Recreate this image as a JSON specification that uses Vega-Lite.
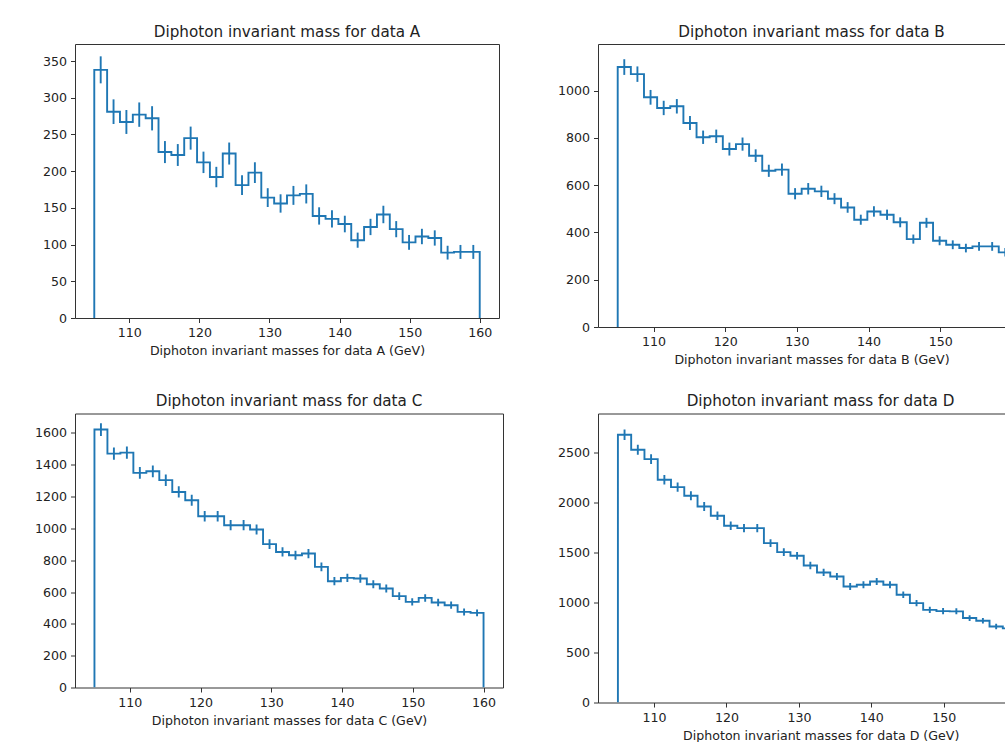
{
  "$schema": "https://vega.github.io/schema/vega-lite/v6.json",
  "background": "white",
  "padding": {"left": 33, "top": 24, "right": 0, "bottom": 0},
  "config": {
    "font": "DejaVu Sans",
    "view": {"stroke": "#333", "strokeWidth": 1},
    "axis": {"grid": false, "domainColor": "#333", "domainWidth": 1, "tickColor": "#333", "tickWidth": 1, "tickSize": 4.5, "labelFont": "DejaVu Sans", "labelFontSize": 12.6, "labelColor": "#222", "labelPadding": 4, "labelFlush": false, "titleFont": "DejaVu Sans", "titleFontSize": 12.6, "titleFontWeight": "normal", "titleColor": "#222", "titlePadding": 5.8, "format": "d"},
    "title": {"font": "DejaVu Sans", "fontSize": 15.2, "fontWeight": "normal", "color": "#222", "offset": 4, "baseline": "alphabetic"}
  },
  "datasets": {
    "A": [
      {"edge": 105, "count": 0},
      {"edge": 105, "center": 105.917, "count": 338, "lo": 319.6, "hi": 356.4},
      {"edge": 106.833, "center": 107.75, "count": 281, "lo": 264.2, "hi": 297.8},
      {"edge": 108.667, "center": 109.583, "count": 267, "lo": 250.7, "hi": 283.3},
      {"edge": 110.5, "center": 111.417, "count": 277, "lo": 260.4, "hi": 293.6},
      {"edge": 112.333, "center": 113.25, "count": 272, "lo": 255.5, "hi": 288.5},
      {"edge": 114.167, "center": 115.083, "count": 226, "lo": 211.0, "hi": 241.0},
      {"edge": 116, "center": 116.917, "count": 222, "lo": 207.1, "hi": 236.9},
      {"edge": 117.833, "center": 118.75, "count": 245, "lo": 229.3, "hi": 260.7},
      {"edge": 119.667, "center": 120.583, "count": 212, "lo": 197.4, "hi": 226.6},
      {"edge": 121.5, "center": 122.417, "count": 192, "lo": 178.1, "hi": 205.9},
      {"edge": 123.333, "center": 124.25, "count": 224, "lo": 209.0, "hi": 239.0},
      {"edge": 125.167, "center": 126.083, "count": 181, "lo": 167.5, "hi": 194.5},
      {"edge": 127, "center": 127.917, "count": 198, "lo": 183.9, "hi": 212.1},
      {"edge": 128.833, "center": 129.75, "count": 164, "lo": 151.2, "hi": 176.8},
      {"edge": 130.667, "center": 131.583, "count": 156, "lo": 143.5, "hi": 168.5},
      {"edge": 132.5, "center": 133.417, "count": 167, "lo": 154.1, "hi": 179.9},
      {"edge": 134.333, "center": 135.25, "count": 169, "lo": 156.0, "hi": 182.0},
      {"edge": 136.167, "center": 137.083, "count": 139, "lo": 127.2, "hi": 150.8},
      {"edge": 138, "center": 138.917, "count": 135, "lo": 123.4, "hi": 146.6},
      {"edge": 139.833, "center": 140.75, "count": 128, "lo": 116.7, "hi": 139.3},
      {"edge": 141.667, "center": 142.583, "count": 106, "lo": 95.7, "hi": 116.3},
      {"edge": 143.5, "center": 144.417, "count": 124, "lo": 112.9, "hi": 135.1},
      {"edge": 145.333, "center": 146.25, "count": 141, "lo": 129.1, "hi": 152.9},
      {"edge": 147.167, "center": 148.083, "count": 121, "lo": 110.0, "hi": 132.0},
      {"edge": 149, "center": 149.917, "count": 103, "lo": 92.9, "hi": 113.1},
      {"edge": 150.833, "center": 151.75, "count": 111, "lo": 100.5, "hi": 121.5},
      {"edge": 152.667, "center": 153.583, "count": 109, "lo": 98.6, "hi": 119.4},
      {"edge": 154.5, "center": 155.417, "count": 89, "lo": 79.6, "hi": 98.4},
      {"edge": 156.333, "center": 157.25, "count": 90, "lo": 80.5, "hi": 99.5},
      {"edge": 158.167, "center": 159.083, "count": 90, "lo": 80.5, "hi": 99.5},
      {"edge": 160, "count": 0}
    ],
    "B": [
      {"edge": 105, "count": 0},
      {"edge": 105, "center": 105.917, "count": 1100, "lo": 1066.8, "hi": 1133.2},
      {"edge": 106.833, "center": 107.75, "count": 1070, "lo": 1037.3, "hi": 1102.7},
      {"edge": 108.667, "center": 109.583, "count": 972, "lo": 940.8, "hi": 1003.2},
      {"edge": 110.5, "center": 111.417, "count": 927, "lo": 896.6, "hi": 957.4},
      {"edge": 112.333, "center": 113.25, "count": 934, "lo": 903.4, "hi": 964.6},
      {"edge": 114.167, "center": 115.083, "count": 863, "lo": 833.6, "hi": 892.4},
      {"edge": 116, "center": 116.917, "count": 803, "lo": 774.7, "hi": 831.3},
      {"edge": 117.833, "center": 118.75, "count": 807, "lo": 778.6, "hi": 835.4},
      {"edge": 119.667, "center": 120.583, "count": 753, "lo": 725.6, "hi": 780.4},
      {"edge": 121.5, "center": 122.417, "count": 774, "lo": 746.2, "hi": 801.8},
      {"edge": 123.333, "center": 124.25, "count": 725, "lo": 698.1, "hi": 751.9},
      {"edge": 125.167, "center": 126.083, "count": 661, "lo": 635.3, "hi": 686.7},
      {"edge": 127, "center": 127.917, "count": 666, "lo": 640.2, "hi": 691.8},
      {"edge": 128.833, "center": 129.75, "count": 564, "lo": 540.3, "hi": 587.7},
      {"edge": 130.667, "center": 131.583, "count": 585, "lo": 560.8, "hi": 609.2},
      {"edge": 132.5, "center": 133.417, "count": 574, "lo": 550.0, "hi": 598.0},
      {"edge": 134.333, "center": 135.25, "count": 543, "lo": 519.7, "hi": 566.3},
      {"edge": 136.167, "center": 137.083, "count": 506, "lo": 483.5, "hi": 528.5},
      {"edge": 138, "center": 138.917, "count": 454, "lo": 432.7, "hi": 475.3},
      {"edge": 139.833, "center": 140.75, "count": 489, "lo": 466.9, "hi": 511.1},
      {"edge": 141.667, "center": 142.583, "count": 475, "lo": 453.2, "hi": 496.8},
      {"edge": 143.5, "center": 144.417, "count": 443, "lo": 422.0, "hi": 464.0},
      {"edge": 145.333, "center": 146.25, "count": 372, "lo": 352.7, "hi": 391.3},
      {"edge": 147.167, "center": 148.083, "count": 441, "lo": 420.0, "hi": 462.0},
      {"edge": 149, "center": 149.917, "count": 365, "lo": 345.9, "hi": 384.1},
      {"edge": 150.833, "center": 151.75, "count": 348, "lo": 329.3, "hi": 366.7},
      {"edge": 152.667, "center": 153.583, "count": 334, "lo": 315.7, "hi": 352.3},
      {"edge": 154.5, "center": 155.417, "count": 341, "lo": 322.5, "hi": 359.5},
      {"edge": 156.333, "center": 157.25, "count": 341, "lo": 322.5, "hi": 359.5},
      {"edge": 158.167, "center": 159.083, "count": 316, "lo": 298.2, "hi": 333.8},
      {"edge": 160, "count": 0}
    ],
    "C": [
      {"edge": 105, "count": 0},
      {"edge": 105, "center": 105.917, "count": 1621, "lo": 1580.7, "hi": 1661.3},
      {"edge": 106.833, "center": 107.75, "count": 1470, "lo": 1431.7, "hi": 1508.3},
      {"edge": 108.667, "center": 109.583, "count": 1476, "lo": 1437.6, "hi": 1514.4},
      {"edge": 110.5, "center": 111.417, "count": 1349, "lo": 1312.3, "hi": 1385.7},
      {"edge": 112.333, "center": 113.25, "count": 1359, "lo": 1322.1, "hi": 1395.9},
      {"edge": 114.167, "center": 115.083, "count": 1303, "lo": 1266.9, "hi": 1339.1},
      {"edge": 116, "center": 116.917, "count": 1229, "lo": 1193.9, "hi": 1264.1},
      {"edge": 117.833, "center": 118.75, "count": 1177, "lo": 1142.7, "hi": 1211.3},
      {"edge": 119.667, "center": 120.583, "count": 1076, "lo": 1043.2, "hi": 1108.8},
      {"edge": 121.5, "center": 122.417, "count": 1076, "lo": 1043.2, "hi": 1108.8},
      {"edge": 123.333, "center": 124.25, "count": 1020, "lo": 988.1, "hi": 1051.9},
      {"edge": 125.167, "center": 126.083, "count": 1020, "lo": 988.1, "hi": 1051.9},
      {"edge": 127, "center": 127.917, "count": 993, "lo": 961.5, "hi": 1024.5},
      {"edge": 128.833, "center": 129.75, "count": 901, "lo": 871.0, "hi": 931.0},
      {"edge": 130.667, "center": 131.583, "count": 852, "lo": 822.8, "hi": 881.2},
      {"edge": 132.5, "center": 133.417, "count": 831, "lo": 802.2, "hi": 859.8},
      {"edge": 134.333, "center": 135.25, "count": 842, "lo": 813.0, "hi": 871.0},
      {"edge": 136.167, "center": 137.083, "count": 758, "lo": 730.5, "hi": 785.5},
      {"edge": 138, "center": 138.917, "count": 668, "lo": 642.2, "hi": 693.8},
      {"edge": 139.833, "center": 140.75, "count": 689, "lo": 662.8, "hi": 715.2},
      {"edge": 141.667, "center": 142.583, "count": 685, "lo": 658.8, "hi": 711.2},
      {"edge": 143.5, "center": 144.417, "count": 649, "lo": 623.5, "hi": 674.5},
      {"edge": 145.333, "center": 146.25, "count": 622, "lo": 597.1, "hi": 646.9},
      {"edge": 147.167, "center": 148.083, "count": 574, "lo": 550.0, "hi": 598.0},
      {"edge": 149, "center": 149.917, "count": 538, "lo": 514.8, "hi": 561.2},
      {"edge": 150.833, "center": 151.75, "count": 563, "lo": 539.3, "hi": 586.7},
      {"edge": 152.667, "center": 153.583, "count": 534, "lo": 510.9, "hi": 557.1},
      {"edge": 154.5, "center": 155.417, "count": 517, "lo": 494.3, "hi": 539.7},
      {"edge": 156.333, "center": 157.25, "count": 475, "lo": 453.2, "hi": 496.8},
      {"edge": 158.167, "center": 159.083, "count": 469, "lo": 447.3, "hi": 490.7},
      {"edge": 160, "count": 0}
    ],
    "D": [
      {"edge": 105, "count": 0},
      {"edge": 105, "center": 105.917, "count": 2673, "lo": 2621.3, "hi": 2724.7},
      {"edge": 106.833, "center": 107.75, "count": 2523, "lo": 2472.8, "hi": 2573.2},
      {"edge": 108.667, "center": 109.583, "count": 2430, "lo": 2380.7, "hi": 2479.3},
      {"edge": 110.5, "center": 111.417, "count": 2224, "lo": 2176.8, "hi": 2271.2},
      {"edge": 112.333, "center": 113.25, "count": 2150, "lo": 2103.6, "hi": 2196.4},
      {"edge": 114.167, "center": 115.083, "count": 2064, "lo": 2018.6, "hi": 2109.4},
      {"edge": 116, "center": 116.917, "count": 1957, "lo": 1912.8, "hi": 2001.2},
      {"edge": 117.833, "center": 118.75, "count": 1864, "lo": 1820.8, "hi": 1907.2},
      {"edge": 119.667, "center": 120.583, "count": 1764, "lo": 1722.0, "hi": 1806.0},
      {"edge": 121.5, "center": 122.417, "count": 1741, "lo": 1699.3, "hi": 1782.7},
      {"edge": 123.333, "center": 124.25, "count": 1741, "lo": 1699.3, "hi": 1782.7},
      {"edge": 125.167, "center": 126.083, "count": 1591, "lo": 1551.1, "hi": 1630.9},
      {"edge": 127, "center": 127.917, "count": 1501, "lo": 1462.3, "hi": 1539.7},
      {"edge": 128.833, "center": 129.75, "count": 1465, "lo": 1426.7, "hi": 1503.3},
      {"edge": 130.667, "center": 131.583, "count": 1368, "lo": 1331.0, "hi": 1405.0},
      {"edge": 132.5, "center": 133.417, "count": 1298, "lo": 1262.0, "hi": 1334.0},
      {"edge": 134.333, "center": 135.25, "count": 1258, "lo": 1222.5, "hi": 1293.5},
      {"edge": 136.167, "center": 137.083, "count": 1158, "lo": 1124.0, "hi": 1192.0},
      {"edge": 138, "center": 138.917, "count": 1175, "lo": 1140.7, "hi": 1209.3},
      {"edge": 139.833, "center": 140.75, "count": 1208, "lo": 1173.2, "hi": 1242.8},
      {"edge": 141.667, "center": 142.583, "count": 1175, "lo": 1140.7, "hi": 1209.3},
      {"edge": 143.5, "center": 144.417, "count": 1075, "lo": 1042.2, "hi": 1107.8},
      {"edge": 145.333, "center": 146.25, "count": 992, "lo": 960.5, "hi": 1023.5},
      {"edge": 147.167, "center": 148.083, "count": 925, "lo": 894.6, "hi": 955.4},
      {"edge": 149, "center": 149.917, "count": 912, "lo": 881.8, "hi": 942.2},
      {"edge": 150.833, "center": 151.75, "count": 910, "lo": 879.8, "hi": 940.2},
      {"edge": 152.667, "center": 153.583, "count": 843, "lo": 814.0, "hi": 872.0},
      {"edge": 154.5, "center": 155.417, "count": 816, "lo": 787.4, "hi": 844.6},
      {"edge": 156.333, "center": 157.25, "count": 759, "lo": 731.5, "hi": 786.5},
      {"edge": 158.167, "center": 159.083, "count": 740, "lo": 712.8, "hi": 767.2},
      {"edge": 160, "count": 0}
    ]
  },
  "columns": 2,
  "align": "none",
  "bounds": "flush",
  "spacing": {"row": 86.5, "column": 95},
  "concat": [
    {
      "width": 424, "height": 274,
      "title": {"text": "Diphoton invariant mass for data A"},
      "data": {"name": "A"},
      "layer": [
        {
          "mark": {"type": "line", "interpolate": "step-after", "color": "#1f77b4", "strokeWidth": 1.9, "clip": true},
          "encoding": {
            "x": {"field": "edge", "type": "quantitative", "scale": {"domain": [102.25, 162.75], "nice": false, "zero": false}, "axis": {"values": [110, 120, 130, 140, 150, 160], "title": "Diphoton invariant masses for data A (GeV)", "domain": false}},
            "y": {"field": "count", "type": "quantitative", "scale": {"domain": [0, 373.2], "nice": false}, "axis": {"values": [0, 50, 100, 150, 200, 250, 300, 350], "title": null, "domain": false}},
            "order": {"value": null}
          }
        },
        {
          "mark": {"type": "rule", "color": "#1f77b4", "strokeWidth": 1.9, "clip": true},
          "encoding": {
            "x": {"field": "center", "type": "quantitative", "axis": {"values": [110, 120, 130, 140, 150, 160], "title": "Diphoton invariant masses for data A (GeV)", "domain": false}},
            "y": {"field": "lo", "type": "quantitative", "axis": {"values": [0, 50, 100, 150, 200, 250, 300, 350], "title": null, "domain": false}},
            "y2": {"field": "hi"}
          }
        }
      ]
    },
    {
      "width": 407, "height": 283,
      "view": {"stroke": null},
      "title": {"text": "Diphoton invariant mass for data B", "dx": 10},
      "data": {"name": "B"},
      "resolve": {"axis": {"x": "independent"}},
      "layer": [
        {
          "mark": {"type": "line", "interpolate": "step-after", "color": "#1f77b4", "strokeWidth": 1.9, "clip": true},
          "encoding": {
            "x": {"field": "edge", "type": "quantitative", "scale": {"domain": [102.25, 159.04], "nice": false, "zero": false}, "axis": {"values": [110, 120, 130, 140, 150], "title": "Diphoton invariant masses for data B (GeV)", "titleX": 213.5}},
            "y": {"field": "count", "type": "quantitative", "scale": {"domain": [0, 1197.6], "nice": false}, "axis": {"values": [0, 200, 400, 600, 800, 1000], "title": null}},
            "order": {"value": null}
          }
        },
        {
          "mark": {"type": "rule", "color": "#1f77b4", "strokeWidth": 1.9, "clip": true},
          "encoding": {
            "x": {"field": "center", "type": "quantitative", "axis": {"orient": "top", "labels": false, "ticks": false, "title": null, "domain": true}},
            "y": {"field": "lo", "type": "quantitative", "axis": {"values": [0, 200, 400, 600, 800, 1000], "title": null}},
            "y2": {"field": "hi"}
          }
        }
      ]
    },
    {
      "width": 428, "height": 274,
      "title": {"text": "Diphoton invariant mass for data C"},
      "data": {"name": "C"},
      "layer": [
        {
          "mark": {"type": "line", "interpolate": "step-after", "color": "#1f77b4", "strokeWidth": 1.9, "clip": true},
          "encoding": {
            "x": {"field": "edge", "type": "quantitative", "scale": {"domain": [102.25, 162.75], "nice": false, "zero": false}, "axis": {"values": [110, 120, 130, 140, 150, 160], "title": "Diphoton invariant masses for data C (GeV)", "domain": false}},
            "y": {"field": "count", "type": "quantitative", "scale": {"domain": [0, 1722], "nice": false}, "axis": {"values": [0, 200, 400, 600, 800, 1000, 1200, 1400, 1600], "title": null, "domain": false}},
            "order": {"value": null}
          }
        },
        {
          "mark": {"type": "rule", "color": "#1f77b4", "strokeWidth": 1.9, "clip": true},
          "encoding": {
            "x": {"field": "center", "type": "quantitative", "axis": {"values": [110, 120, 130, 140, 150, 160], "title": "Diphoton invariant masses for data C (GeV)", "domain": false}},
            "y": {"field": "lo", "type": "quantitative", "axis": {"values": [0, 200, 400, 600, 800, 1000, 1200, 1400, 1600], "title": null, "domain": false}},
            "y2": {"field": "hi"}
          }
        }
      ]
    },
    {
      "width": 407, "height": 289,
      "view": {"stroke": null},
      "title": {"text": "Diphoton invariant mass for data D", "dx": 19},
      "data": {"name": "D"},
      "resolve": {"axis": {"x": "independent"}},
      "layer": [
        {
          "mark": {"type": "line", "interpolate": "step-after", "color": "#1f77b4", "strokeWidth": 1.9, "clip": true},
          "encoding": {
            "x": {"field": "edge", "type": "quantitative", "scale": {"domain": [102.25, 158.47], "nice": false, "zero": false}, "axis": {"values": [110, 120, 130, 140, 150], "title": "Diphoton invariant masses for data D (GeV)", "titleX": 222.7}},
            "y": {"field": "count", "type": "quantitative", "scale": {"domain": [0, 2885], "nice": false}, "axis": {"values": [0, 500, 1000, 1500, 2000, 2500], "title": null}},
            "order": {"value": null}
          }
        },
        {
          "mark": {"type": "rule", "color": "#1f77b4", "strokeWidth": 1.9, "clip": true},
          "encoding": {
            "x": {"field": "center", "type": "quantitative", "axis": {"orient": "top", "labels": false, "ticks": false, "title": null, "domain": true}},
            "y": {"field": "lo", "type": "quantitative", "axis": {"values": [0, 500, 1000, 1500, 2000, 2500], "title": null}},
            "y2": {"field": "hi"}
          }
        }
      ]
    }
  ]
}
